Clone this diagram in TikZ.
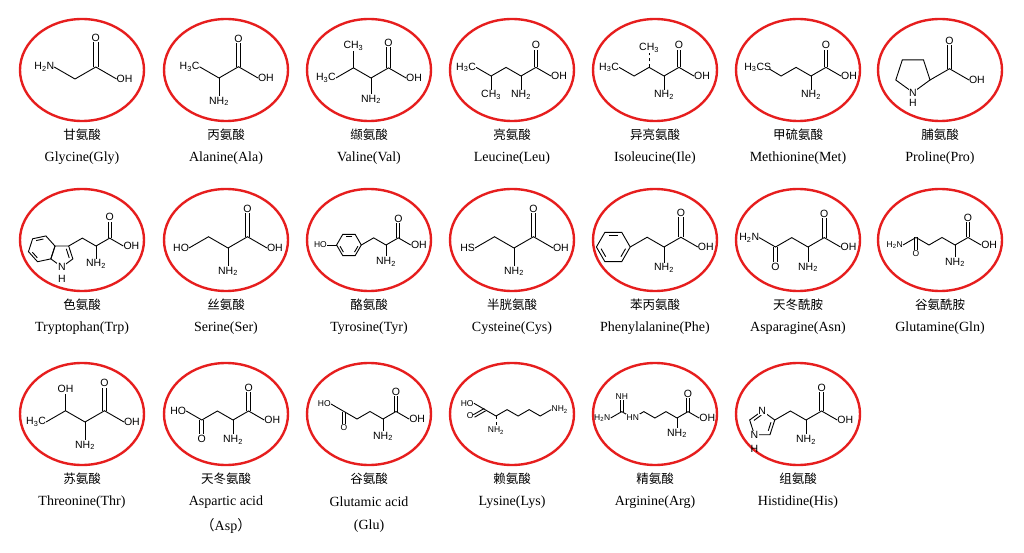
\documentclass[tikz,border=0pt]{standalone}
\usepackage{fontspec}
\setmainfont{Liberation Serif}
\newfontfamily\cjk{Noto Sans CJK SC}
\newfontfamily\atomf{Liberation Sans}
\definecolor{ringred}{RGB}{230,30,30}
\begin{document}
\begin{tikzpicture}[x=1pt,y=1pt,
  ring/.style={draw=ringred,line width=2.4pt},
  bond/.style={line width=0.9pt},
  atom/.style={font=\atomf\fontsize{10.5}{10.5}\selectfont,inner sep=0.6pt},
  small/.style={font=\atomf\fontsize{8.5}{8.5}\selectfont},
  cn/.style={font=\cjk\fontsize{12.5}{14}\selectfont},
  en/.style={font=\fontsize{14}{16}\selectfont}]
\useasboundingbox (0,0) rectangle (1024,552);
\newcommand\dblv[3]{\draw[bond] (#1-1.6,#2)--(#1-1.6,#3); \draw[bond] (#1+1.6,#2)--(#1+1.6,#3);}
\newcommand\core{\draw[bond] (0,0)--(13,7.5)--(26,0); \dblv{13}{7.5}{23}
  \node[atom,anchor=south] at (13,23){O}; \node[atom,anchor=west] at (25.5,0){OH};}
\newcommand\amine{\draw[bond](0,0)--(0,-12); \node[atom,anchor=north] at (0,-12){NH\textsubscript{2}};}
\newcommand\acid[5]{% cx, y, cn, en, en2
  \draw[ring] (#1,#2) ellipse (62 and 51);
  \node[cn] (c#1#2) at (#1,#2-65) {#3};
  \node[en] (e#1#2) at (#1,#2-88) {#4};
  \node[en] (f#1#2) at (#1,#2-112) {#5};}
\acid{82}{482}{甘氨酸}{Glycine(Gly)}{}
\acid{226}{482}{丙氨酸}{Alanine(Ala)}{}
\acid{369}{482}{缬氨酸}{Valine(Val)}{}
\acid{512}{482}{亮氨酸}{Leucine(Leu)}{}
\acid{655}{482}{异亮氨酸}{Isoleucine(Ile)}{}
\acid{798}{482}{甲硫氨酸}{Methionine(Met)}{}
\acid{940}{482}{脯氨酸}{Proline(Pro)}{}
\acid{82}{312}{色氨酸}{Tryptophan(Trp)}{}
\acid{226}{312}{丝氨酸}{Serine(Ser)}{}
\acid{369}{312}{酪氨酸}{Tyrosine(Tyr)}{}
\acid{512}{312}{半胱氨酸}{Cysteine(Cys)}{}
\acid{655}{312}{苯丙氨酸}{Phenylalanine(Phe)}{}
\acid{798}{312}{天冬酰胺}{Asparagine(Asn)}{}
\acid{940}{312}{谷氨酰胺}{Glutamine(Gln)}{}
\acid{82}{138}{苏氨酸}{Threonine(Thr)}{}
\acid{226}{138}{天冬氨酸}{Aspartic acid}{{\cjk （}Asp{\cjk ）}}
\acid{369}{138}{谷氨酸}{Glutamic acid}{(Glu)}
\acid{512}{138}{赖氨酸}{Lysine(Lys)}{}
\acid{655}{138}{精氨酸}{Arginine(Arg)}{}
\acid{798}{138}{组氨酸}{Histidine(His)}{}
% Gly
\begin{scope}[shift={(75,473)},scale=1.6]\core
 \draw[bond](0,0)--(-13,7.5); \node[atom,anchor=east] at (-12.5,7.5){H\textsubscript{2}N};\end{scope}
% Ala
\begin{scope}[shift={(219,474)},scale=1.5]\core\amine
 \draw[bond](0,0)--(-13,7.5); \node[atom,anchor=east] at (-12.5,7.5){H\textsubscript{3}C};\end{scope}
% Val
\begin{scope}[shift={(371,474)},scale=1.35]\core\amine
 \draw[bond](0,0)--(-13,7.5)--(-26,0); \draw[bond](-13,7.5)--(-13,20);
 \node[atom,anchor=south] at (-13,20){CH\textsubscript{3}}; \node[atom,anchor=east] at (-25.5,0){H\textsubscript{3}C};\end{scope}
% Leu
\begin{scope}[shift={(521,476)},scale=1.15]\core\amine
 \draw[bond](0,0)--(-13,7.5)--(-26,0)--(-39,7.5); \draw[bond](-26,0)--(-26,-12);
 \node[atom,anchor=north] at (-26,-12){CH\textsubscript{3}}; \node[atom,anchor=east] at (-38.5,7.5){H\textsubscript{3}C};\end{scope}
% Ile
\begin{scope}[shift={(664,476)},scale=1.15]\core\amine
 \draw[bond](0,0)--(-13,7.5)--(-26,0)--(-39,7.5); \draw[bond,dashed](-13,7.5)--(-13,20);
 \node[atom,anchor=south] at (-13,20){CH\textsubscript{3}}; \node[atom,anchor=east] at (-38.5,7.5){H\textsubscript{3}C};\end{scope}
% Met
\begin{scope}[shift={(811,476)},scale=1.15]\core\amine
 \draw[bond](0,0)--(-13,7.5)--(-26,0)--(-36,6); \node[atom,anchor=east] at (-34,7.5){H\textsubscript{3}CS};\end{scope}
% Pro
\begin{scope}[shift={(930,472)},scale=1.5]\core
 \begin{scope}[shift={(-11.4,3.7)}]\draw[bond](342:12)--(54:12)--(126:12)--(198:12)--(270:12)--cycle;
 \node[atom,fill=white] at (270:12){N};\node[atom] at (0,-19){H};\end{scope}\end{scope}
% Trp
\begin{scope}[shift={(96,306)},scale=1.05]\core\amine
 \draw[bond](0,0)--(-13,7.5)--(-26,0);
 \begin{scope}[shift={(-32.5,-8.9)}]
  \draw[bond](54:11)--(126:11)--(198:11)--(270:11)--(342:11)--cycle;
  \draw[bond](56:7.5)--(340:7.5);
  \begin{scope}[shift={(-19.2,6.2)}]
   \draw[bond](12:12.9)--(72:12.9)--(132:12.9)--(192:12.9)--(252:12.9)--(312:12.9)--cycle;
   \draw[bond](80:9.5)--(124:9.5); \draw[bond](200:9.5)--(244:9.5);
  \end{scope}
  \node[atom,fill=white] at (270:11){N}; \node[atom] at (0,-22){H};
 \end{scope}\end{scope}
% Ser
\begin{scope}[shift={(228,304)},scale=1.5]\core\amine
 \draw[bond](0,0)--(-13,7.5)--(-26,0); \node[atom,anchor=east] at (-25.5,0){HO};\end{scope}
% Tyr
\begin{scope}[shift={(386,307)},scale=0.95,every node/.append style={small}]\core\amine
 \draw[bond](0,0)--(-13,7.5)--(-26,0);
 \begin{scope}[shift={(-39,0)}]
  \draw[bond](0:13)--(60:13)--(120:13)--(180:13)--(240:13)--(300:13)--cycle;
  \draw[bond](68:9.5)--(112:9.5); \draw[bond](188:9.5)--(232:9.5); \draw[bond](308:9.5)--(352:9.5);
  \draw[bond](180:13)--(180:23);
 \end{scope}
 \node[atom,small,anchor=east] at (-61.5,0){HO};\end{scope}
% Cys
\begin{scope}[shift={(514,304)},scale=1.5]\core\amine
 \draw[bond](0,0)--(-13,7.5)--(-26,0); \node[atom,anchor=east] at (-25.5,0){HS};\end{scope}
% Phe
\begin{scope}[shift={(664,305)},scale=1.3]\core\amine
 \draw[bond](0,0)--(-13,7.5)--(-26,0);
 \begin{scope}[shift={(-39,0)}]
  \draw[bond](0:13)--(60:13)--(120:13)--(180:13)--(240:13)--(300:13)--cycle;
  \draw[bond](68:9.5)--(112:9.5); \draw[bond](188:9.5)--(232:9.5); \draw[bond](308:9.5)--(352:9.5);
 \end{scope}\end{scope}
% Asn
\begin{scope}[shift={(808,305)},scale=1.25]\core\amine
 \draw[bond](0,0)--(-13,7.5)--(-26,0)--(-39,7.5); \dblv{-26}{0}{-12}
 \node[atom,anchor=north] at (-26,-12){O}; \node[atom,anchor=east] at (-38.5,7.5){H\textsubscript{2}N};\end{scope}
% Gln
\begin{scope}[shift={(955,307)},scale=1.0,every node/.append style={small}]\core\amine
 \draw[bond](0,0)--(-13,7.5)--(-26,0)--(-39,7.5)--(-52,0); \dblv{-39}{7.5}{-5}
 \node[atom,small,anchor=north] at (-39,-5){O}; \node[atom,small,anchor=east] at (-51.5,0){H\textsubscript{2}N};\end{scope}
% Thr
\begin{scope}[shift={(85,130)},scale=1.5]\core\amine
 \draw[bond](0,0)--(-13,7.5)--(-26,0); \draw[bond](-13,7.5)--(-13,19);
 \node[atom,anchor=south] at (-13,19){OH}; \node[atom,anchor=east] at (-25.5,0){H\textsubscript{3}C};\end{scope}
% Asp
\begin{scope}[shift={(233,132)},scale=1.2]\core\amine
 \draw[bond](0,0)--(-13,7.5)--(-26,0)--(-39,7.5); \dblv{-26}{0}{-12}
 \node[atom,anchor=north] at (-26,-12){O}; \node[atom,anchor=east] at (-38.5,7.5){HO};\end{scope}
% Glu
\begin{scope}[shift={(383,133)},scale=1.0,every node/.append style={small}]\core\amine
 \draw[bond](0,0)--(-13,7.5)--(-26,0)--(-39,7.5)--(-52,15); \dblv{-39}{7.5}{-5}
 \node[atom,small,anchor=north] at (-39,-5){O}; \node[atom,small,anchor=east] at (-51.5,15){HO};\end{scope}
% Lys
\begin{scope}[shift={(496,136)},scale=0.85,every node/.append style={small}]
 \draw[bond](0,0)--(-13,7.5)--(-26,15);
 \draw[bond](-12.2,6.1)--(-25.2,-1.4); \draw[bond](-13.8,8.9)--(-26.8,1.4);
 \node[atom,small,anchor=east] at (-25.5,0){O}; \node[atom,small,anchor=east] at (-25.5,15){HO};
 \draw[bond,dashed](0,0)--(0,-12); \node[atom,small,anchor=north] at (0,-12){NH\textsubscript{2}};
 \draw[bond](0,0)--(13,7.5)--(26,0)--(39,7.5)--(52,0)--(65,7.5);
 \node[atom,small,anchor=west] at (64.5,7.5){NH\textsubscript{2}};\end{scope}
% Arg
\begin{scope}[shift={(677,134)},scale=0.85,every node/.append style={small}]\core\amine
 \draw[bond](0,0)--(-13,7.5)--(-26,0)--(-39,7.5)--(-52,0)--(-65,7.5)--(-78,0);
 \dblv{-65}{7.5}{21}
 \node[atom,small,fill=white] at (-52,0){HN}; \node[atom,small,anchor=south] at (-65,21){NH};
 \node[atom,small,anchor=east] at (-77.5,0){H\textsubscript{2}N};\end{scope}
% His
\begin{scope}[shift={(806,132)},scale=1.2]\core\amine
 \draw[bond](0,0)--(-13,7.5)--(-26,0);
 \begin{scope}[shift={(-36.5,-3.4)}]
  \draw[bond](18:11)--(90:11)--(162:11)--(234:11)--(306:11)--cycle;
  \draw[bond](96:7.5)--(156:7.5); \draw[bond](12:7.5)--(312:7.5);
  \node[atom,fill=white] at (90:11){N}; \node[atom,fill=white] at (234:11){N};
  \node[atom] at (-6.5,-21){H};
 \end{scope}\end{scope}
\end{tikzpicture}
\end{document}
